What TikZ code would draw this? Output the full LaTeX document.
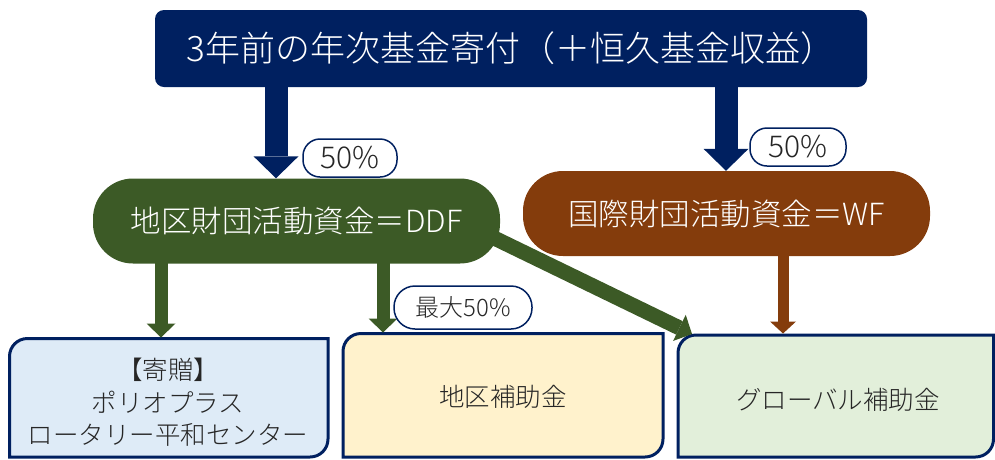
\documentclass[tikz,border=0pt]{standalone}
\usepackage{fontspec}
\IfFontExistsTF{Noto Sans CJK JP Light}{\setmainfont{Noto Sans CJK JP Light}}{\setmainfont{Noto Sans CJK JP}}
\usetikzlibrary{arrows.meta}
\definecolor{navy}{HTML}{002060}
\definecolor{dgreen}{HTML}{3C5A26}
\definecolor{brownc}{HTML}{843C0C}
\definecolor{fblue}{HTML}{DEEBF7}
\definecolor{fyellow}{HTML}{FFF2CC}
\definecolor{fgreen}{HTML}{E2EFDA}
\definecolor{tgray}{HTML}{262626}
\newcommand\rdframe[5]{%
  \draw[line width=3pt, draw=navy, fill=#5]
    (#1,#4) -- (#1,{#2+18}) .. controls (#1,{#2+8}) and ({#1+8},#2) .. ({#1+18},#2)
    -- (#3,#2) -- (#3,{#4-18}) .. controls (#3,{#4-8}) and ({#3-8},#4) .. ({#3-18},#4)
    -- cycle;}
\begin{document}
\begin{tikzpicture}[x=1pt,y=-1pt,
  topbox/.style={fill=navy, rounded corners=9pt, minimum width=712pt, minimum height=77pt,
    inner sep=0pt, text=white, font=\fontsize{35}{42}\selectfont},
  fundbox/.style={rounded corners=40pt, minimum width=407pt, minimum height=85pt,
    inner sep=0pt, text=white, font=\fontsize{30.5}{36}\selectfont},
  pct/.style={draw=navy, line width=1.5pt, fill=white, rounded corners=17pt,
    inner sep=0pt, text=tgray},
  btext/.style={text=tgray, inner sep=0pt, font=\fontsize{25.5}{32.5}\selectfont},
  barrow/.style={draw=navy, line width=23pt, -{Triangle[width=45pt,length=22pt,line width=0pt]}},
  garrow/.style={draw=dgreen, line width=13pt, -{Triangle[width=29pt,length=14pt,line width=0pt]}},
  brarrow/.style={draw=brownc, line width=11pt, -{Triangle[width=26pt,length=12pt,line width=0pt]}},
]
\useasboundingbox (0,0) rectangle (995,459);

% bottom frames
\rdframe{9.5}{338.5}{328}{457}{fblue}
\rdframe{343}{333.5}{663}{457}{fyellow}
\rdframe{678}{335}{993.5}{457}{fgreen}

% position helpers
\coordinate (xl) at (276,0);
\coordinate (xr) at (726,0);
\coordinate (b1in) at (161,337.5);
\coordinate (b2in) at (383,332.5);
\coordinate (b3in) at (783,333.5);
\coordinate (dstart) at (455,219);
\coordinate (b3diag) at (692,334);

% diagonal connector (drawn beneath the DDF node)
\draw[garrow, line width=15pt] (dstart) -- (b3diag);

% main nodes
\node[topbox] (top) at (511,48.5) {3年前の年次基金寄付（＋恒久基金収益）};
\node[fundbox, fill=dgreen] (dd) at (296.5,221) {地区財団活動資金＝DDF};
\node[fundbox, fill=brownc] (wf) at (726.5,213.5) {国際財団活動資金＝WF};

% arrows
\draw[barrow] ([yshift=1pt]top.south -| xl) -- (dd.north -| xl);
\draw[barrow] ([yshift=1pt]top.south -| xr) -- (wf.north -| xr);
\draw[garrow] ([yshift=1pt]dd.south -| b1in) -- (b1in);
\draw[garrow] ([yshift=1pt]dd.south -| b2in) -- (b2in);
\draw[brarrow] ([yshift=1pt]wf.south -| b3in) -- (b3in);

% percentage labels
\node[pct, minimum width=94pt, minimum height=38pt, font=\fontsize{30}{36}\selectfont] (p1) at (350,158) {50\%};
\node[pct, minimum width=96pt, minimum height=38pt, font=\fontsize{30}{36}\selectfont] (p2) at (798,147) {50\%};
\node[pct, minimum width=138pt, minimum height=43pt, rounded corners=21pt, font=\fontsize{24}{30}\selectfont] (p3) at (463,307.5) {最大50\%};

% box texts
\node[btext] (b1) at (168,405.5) {\begin{tabular}{@{}c@{}}【寄贈】\\ポリオプラス\\ロータリー平和センター\end{tabular}};
\node[btext] (b2) at (503,397) {地区補助金};
\node[btext] (b3) at (838,400) {グローバル補助金};
\end{tikzpicture}
\end{document}
